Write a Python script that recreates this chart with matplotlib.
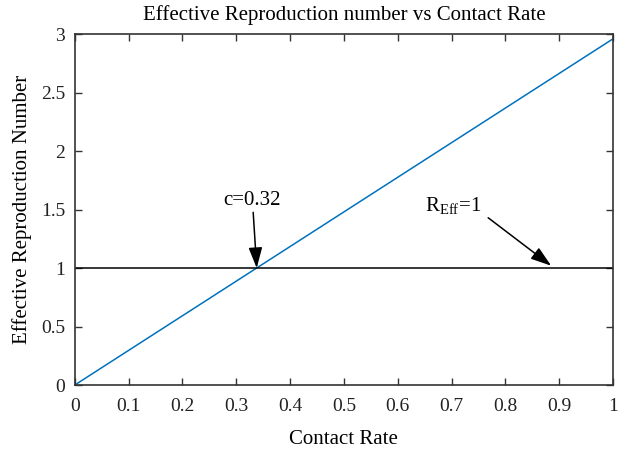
import matplotlib.pyplot as plt

plt.rcParams['font.family'] = ['Liberation Serif', 'DejaVu Serif']
plt.rcParams['mathtext.fontset'] = 'custom'
plt.rcParams['mathtext.rm'] = 'Liberation Serif'

# data
contact_rate = [0.0, 1.0]
r_eff = [0.0, 2.96]
threshold_x = [0.0, 1.0]
threshold_y = [1.0, 1.0]
c_star = 0.338

fig = plt.figure(figsize=(6.18, 4.49), dpi=100)
ax = fig.add_axes([0.121, 0.1425, 0.871, 0.7815])

ax.plot(contact_rate, r_eff, color='#0072BD', linewidth=1.1)
ax.plot(threshold_x, threshold_y, color='black', linewidth=1.1)

ax.set_xlim(0, 1)
ax.set_ylim(0, 3)
ax.set_xticks([i / 10 for i in range(11)])
ax.set_xticklabels(['0', '0.1', '0.2', '0.3', '0.4', '0.5', '0.6', '0.7', '0.8', '0.9', '1'])
ax.set_yticks([0, 0.5, 1, 1.5, 2, 2.5, 3])
ax.set_yticklabels(['0', '0.5', '1', '1.5', '2', '2.5', '3'])
ax.tick_params(direction='in', top=True, right=True, labelsize=14, length=5, width=1.0,
               color='#333333', labelcolor='#222222')
ax.tick_params(axis='x', pad=9)
ax.tick_params(axis='y', pad=7)
for s in ax.spines.values():
    s.set_linewidth(1.2)
    s.set_color('#333333')

ax.set_title('Effective Reproduction number vs Contact Rate', fontsize=15, pad=10)
ax.set_xlabel('Contact Rate', fontsize=15, labelpad=11)
ax.set_ylabel('Effective Reproduction Number', fontsize=15, labelpad=6)

ax.annotate('c=0.32', xy=(c_star, 1.0), xytext=(0.33, 1.50), ha='center', va='bottom',
            fontsize=15,
            arrowprops=dict(arrowstyle='-|>,head_length=0.9,head_width=0.3', color='black',
                            lw=1.1, mutation_scale=14, shrinkA=0, shrinkB=0))
ax.annotate('', xy=(0.885, 1.02), xytext=(0.768, 1.43),
            arrowprops=dict(arrowstyle='-|>,head_length=0.9,head_width=0.3', color='black',
                            lw=1.1, mutation_scale=14, shrinkA=0, shrinkB=0))
ax.text(0.65, 1.44, r'R$_{\mathrm{Eff}}$=1', fontsize=15, ha='left', va='bottom')

fig.savefig('out.png', dpi=100)
